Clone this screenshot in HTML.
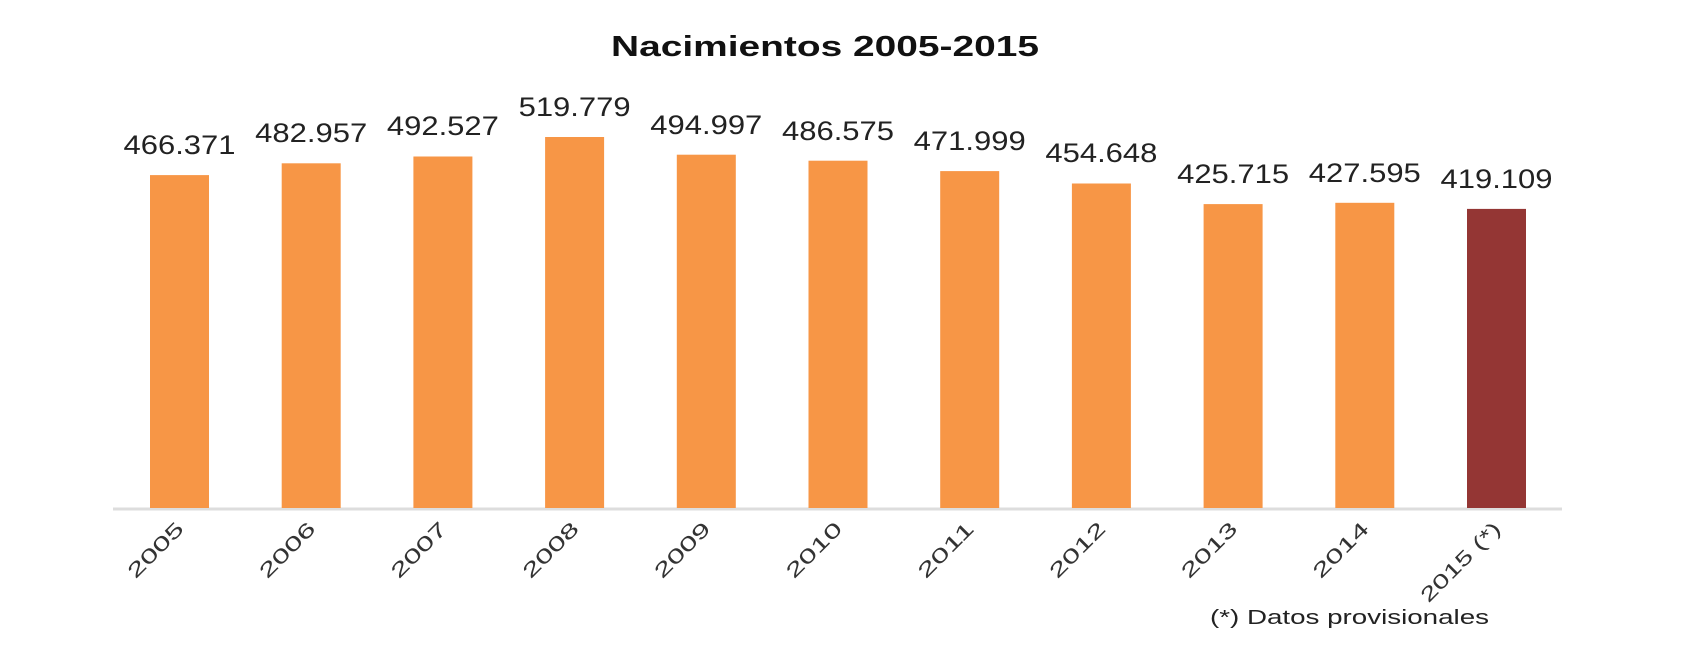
<!DOCTYPE html><html><head><style>body{margin:0;background:#fff}</style></head><body>
<svg width="1706" height="640" xmlns="http://www.w3.org/2000/svg" font-family="Liberation Sans, sans-serif">
<text x="825" y="56" font-size="29" font-weight="bold" text-anchor="middle" fill="#111" textLength="428" lengthAdjust="spacingAndGlyphs">Nacimientos 2005-2015</text>
<line x1="113" y1="509" x2="1562" y2="509" stroke="#ddd" stroke-width="3"/>
<g fill="#f79646">
<rect x="150" y="175.1" width="59" height="332.9"/>
<rect x="281.7" y="163.3" width="59" height="344.7"/>
<rect x="413.4" y="156.5" width="59" height="351.5"/>
<rect x="545.1" y="137" width="59" height="371"/>
<rect x="676.8" y="154.7" width="59" height="353.3"/>
<rect x="808.5" y="160.7" width="59" height="347.3"/>
<rect x="940.2" y="171.1" width="59" height="336.9"/>
<rect x="1071.9" y="183.5" width="59" height="324.5"/>
<rect x="1203.6" y="204.1" width="59" height="303.9"/>
<rect x="1335.3" y="202.8" width="59" height="305.2"/>
</g>
<rect x="1467" y="208.9" width="59" height="299.1" fill="#943634"/>
<g font-size="27" text-anchor="middle" fill="#222">
<text x="179.5" y="154" textLength="112" lengthAdjust="spacingAndGlyphs">466.371</text>
<text x="311.2" y="142" textLength="112" lengthAdjust="spacingAndGlyphs">482.957</text>
<text x="442.9" y="135" textLength="112" lengthAdjust="spacingAndGlyphs">492.527</text>
<text x="574.6" y="116" textLength="112" lengthAdjust="spacingAndGlyphs">519.779</text>
<text x="706.3" y="134" textLength="112" lengthAdjust="spacingAndGlyphs">494.997</text>
<text x="838" y="140" textLength="112" lengthAdjust="spacingAndGlyphs">486.575</text>
<text x="969.7" y="150" textLength="112" lengthAdjust="spacingAndGlyphs">471.999</text>
<text x="1101.4" y="162" textLength="112" lengthAdjust="spacingAndGlyphs">454.648</text>
<text x="1233.1" y="183" textLength="112" lengthAdjust="spacingAndGlyphs">425.715</text>
<text x="1364.8" y="182" textLength="112" lengthAdjust="spacingAndGlyphs">427.595</text>
<text x="1496.5" y="188" textLength="112" lengthAdjust="spacingAndGlyphs">419.109</text>
</g>
<g font-size="20" text-anchor="end" fill="#333">
<text transform="translate(185,530) rotate(-45)" textLength="70" lengthAdjust="spacingAndGlyphs">2005</text>
<text transform="translate(316.7,530) rotate(-45)" textLength="70" lengthAdjust="spacingAndGlyphs">2006</text>
<text transform="translate(448.4,530) rotate(-45)" textLength="70" lengthAdjust="spacingAndGlyphs">2007</text>
<text transform="translate(580.1,530) rotate(-45)" textLength="70" lengthAdjust="spacingAndGlyphs">2008</text>
<text transform="translate(711.8,530) rotate(-45)" textLength="70" lengthAdjust="spacingAndGlyphs">2009</text>
<text transform="translate(843.5,530) rotate(-45)" textLength="70" lengthAdjust="spacingAndGlyphs">2010</text>
<text transform="translate(975.2,530) rotate(-45)" textLength="70" lengthAdjust="spacingAndGlyphs">2011</text>
<text transform="translate(1106.9,530) rotate(-45)" textLength="70" lengthAdjust="spacingAndGlyphs">2012</text>
<text transform="translate(1238.6,530) rotate(-45)" textLength="70" lengthAdjust="spacingAndGlyphs">2013</text>
<text transform="translate(1370.3,530) rotate(-45)" textLength="70" lengthAdjust="spacingAndGlyphs">2014</text>
<text transform="translate(1502,530) rotate(-45)" textLength="104" lengthAdjust="spacingAndGlyphs">2015 (*)</text>
</g>
<text x="1210" y="624" font-size="20" fill="#222" textLength="279" lengthAdjust="spacingAndGlyphs">(*) Datos provisionales</text>
</svg></body></html>
